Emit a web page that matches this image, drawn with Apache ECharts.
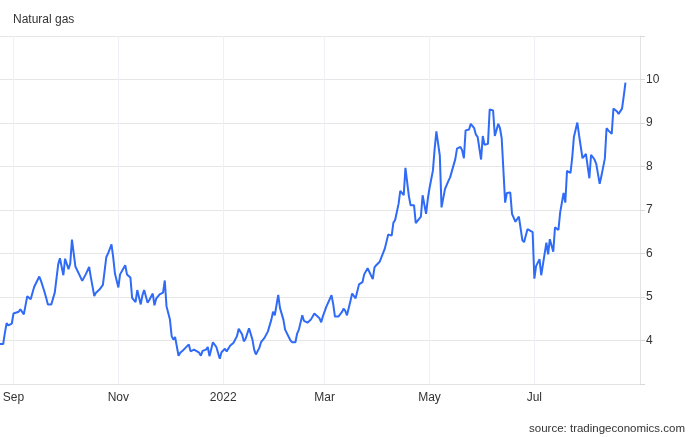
<!DOCTYPE html>
<html>
<head>
<meta charset="utf-8">
<script src="https://cdn.jsdelivr.net/npm/echarts@6/dist/echarts.min.js"></script>
<style>
html,body{margin:0;padding:0;background:#fff;}
#chart{width:696px;height:437px;}
</style>
</head>
<body>
<div id="chart"></div>
<script>
// ---- data ----
const dates = [
'2021-08-24','2021-08-26','2021-08-27','2021-08-28','2021-08-29','2021-08-31',
'2021-09-01','2021-09-04','2021-09-05','2021-09-07','2021-09-09','2021-09-10','2021-09-11','2021-09-13','2021-09-14','2021-09-16','2021-09-17','2021-09-19','2021-09-20','2021-09-21','2021-09-23','2021-09-25','2021-09-27','2021-09-28','2021-09-30',
'2021-10-01','2021-10-03','2021-10-04','2021-10-05','2021-10-07','2021-10-08','2021-10-11','2021-10-13','2021-10-15','2021-10-16','2021-10-18','2021-10-19','2021-10-21','2021-10-22','2021-10-23','2021-10-25','2021-10-26','2021-10-28','2021-10-29','2021-10-30',
'2021-11-01','2021-11-02','2021-11-04','2021-11-05','2021-11-06','2021-11-08','2021-11-09','2021-11-11','2021-11-12','2021-11-14','2021-11-15','2021-11-16','2021-11-18','2021-11-19','2021-11-21','2021-11-22','2021-11-23','2021-11-25','2021-11-27','2021-11-28','2021-11-29',
'2021-12-01','2021-12-02','2021-12-03','2021-12-04','2021-12-06','2021-12-07','2021-12-09','2021-12-10','2021-12-12','2021-12-13','2021-12-15','2021-12-16','2021-12-18','2021-12-19','2021-12-20','2021-12-22','2021-12-23','2021-12-24','2021-12-26','2021-12-27','2021-12-28','2021-12-30','2021-12-31',
'2022-01-02','2022-01-03','2022-01-05','2022-01-06','2022-01-07','2022-01-09','2022-01-10','2022-01-12','2022-01-13','2022-01-14','2022-01-16','2022-01-18','2022-01-19','2022-01-20','2022-01-22','2022-01-23','2022-01-25','2022-01-27','2022-01-29','2022-01-30','2022-01-31',
'2022-02-02','2022-02-03','2022-02-05','2022-02-06','2022-02-07','2022-02-09','2022-02-10','2022-02-12','2022-02-13','2022-02-14','2022-02-16','2022-02-17','2022-02-19','2022-02-20','2022-02-21','2022-02-23','2022-02-24','2022-02-26','2022-02-27','2022-02-28',
'2022-03-02','2022-03-03','2022-03-05','2022-03-06','2022-03-07','2022-03-09','2022-03-11','2022-03-12','2022-03-13','2022-03-14','2022-03-16','2022-03-17','2022-03-19','2022-03-20','2022-03-21','2022-03-23','2022-03-24','2022-03-26','2022-03-27','2022-03-29','2022-03-30','2022-03-31',
'2022-04-02','2022-04-03','2022-04-05','2022-04-06','2022-04-07','2022-04-09','2022-04-10','2022-04-11','2022-04-13','2022-04-14','2022-04-16','2022-04-17','2022-04-19','2022-04-20','2022-04-22','2022-04-23','2022-04-24','2022-04-26','2022-04-27','2022-04-29','2022-04-30',
'2022-05-01','2022-05-03','2022-05-04','2022-05-05','2022-05-07','2022-05-08','2022-05-10','2022-05-12','2022-05-13','2022-05-14','2022-05-16','2022-05-17','2022-05-19','2022-05-20','2022-05-21','2022-05-22','2022-05-24','2022-05-25','2022-05-27','2022-05-28','2022-05-29','2022-05-31',
'2022-06-01','2022-06-02','2022-06-04','2022-06-05','2022-06-07','2022-06-08','2022-06-10','2022-06-11','2022-06-12','2022-06-14','2022-06-15','2022-06-17','2022-06-18','2022-06-20','2022-06-21','2022-06-22','2022-06-24','2022-06-25','2022-06-27','2022-06-28','2022-06-30',
'2022-07-01','2022-07-02','2022-07-04','2022-07-05','2022-07-06','2022-07-08','2022-07-09','2022-07-10','2022-07-12','2022-07-13','2022-07-15','2022-07-16','2022-07-18','2022-07-19','2022-07-20','2022-07-22','2022-07-23','2022-07-24','2022-07-26','2022-07-27','2022-07-29','2022-07-30','2022-07-31',
'2022-08-02','2022-08-03','2022-08-05','2022-08-06','2022-08-08','2022-08-09','2022-08-11','2022-08-12','2022-08-13','2022-08-15','2022-08-16','2022-08-18','2022-08-19','2022-08-21','2022-08-22','2022-08-23'
];
const prices = [
3.92,3.92,4.18,4.40,4.35,4.39,
4.62,4.66,4.72,4.60,5.02,5.05,4.95,5.23,5.25,5.47,5.37,5.12,4.98,4.83,4.83,5.10,5.75,5.89,5.50,
5.88,5.64,5.77,6.32,5.70,5.68,5.37,5.52,5.69,5.45,5.02,5.10,5.17,5.14,5.28,5.92,6.00,6.21,5.91,5.54,
5.22,5.52,5.66,5.73,5.52,5.45,4.98,4.88,5.16,4.83,5.04,5.16,4.87,4.93,5.08,4.81,4.96,5.06,5.10,5.38,4.79,
4.48,4.10,4.02,4.08,3.65,3.72,3.79,3.81,3.91,3.75,3.79,3.78,3.72,3.65,3.76,3.79,3.85,3.64,3.96,3.92,3.85,3.58,3.73,
3.81,3.75,3.88,3.85,3.95,4.10,4.27,4.14,3.98,4.04,4.28,4.02,3.79,3.68,3.83,3.96,4.06,4.21,4.48,4.66,4.58,
5.05,4.75,4.48,4.25,4.23,4.01,3.96,3.96,4.16,4.25,4.58,4.45,4.41,4.45,4.48,4.62,4.62,4.51,4.42,4.56,
4.78,4.75,5.04,4.83,4.55,4.55,4.65,4.73,4.68,4.58,4.91,5.08,4.97,5.00,5.29,5.34,5.52,5.66,5.62,5.41,5.68,5.73,
5.81,5.82,6.11,6.12,6.44,6.41,6.71,6.77,7.14,7.44,7.34,7.97,7.32,7.11,7.11,6.70,6.68,6.85,7.34,6.91,7.25,
7.50,7.91,8.41,8.81,8.25,7.06,7.48,7.67,7.75,7.71,8.17,8.41,8.45,8.37,8.19,8.83,8.85,8.98,8.88,8.73,8.68,8.16,
8.70,8.50,8.52,9.31,9.29,8.70,8.98,8.88,8.65,7.17,7.39,7.40,6.91,6.73,6.77,6.85,6.31,6.26,6.56,6.58,6.49,
5.42,5.71,5.87,5.50,5.50,6.25,5.98,6.33,6.04,6.60,6.54,6.94,7.39,7.17,7.90,7.85,8.19,8.68,9.01,8.72,8.19,8.24,8.29,
7.73,8.27,8.16,8.06,7.60,7.78,8.18,8.88,8.83,8.75,9.33,9.27,9.21,9.33,9.62,9.93
];
const xTickDates = ['2021-09-01','2021-11-01','2022-01-01','2022-03-01','2022-05-01','2022-07-01'];
const xTickLabels = ['Sep','Nov','2022','Mar','May','Jul'];
const yTickLabels = ['4','5','6','7','8','9','10'];
const titleText = 'Natural gas';
const sourceText = 'source: tradingeconomics.com';

// ---- build chart ----
function toTs(s){ const p = s.split('-').map(Number); return Date.UTC(p[0], p[1]-1, p[2]); }
const seriesData = dates.map((d, i) => [toTs(d), prices[i]]);
const xTicks = xTickDates.map(toTs);
const labelMap = {};
xTicks.forEach((t, i) => { labelMap[t] = xTickLabels[i]; });

const chart = echarts.init(document.getElementById('chart'), null, {renderer: 'canvas'});
const font = 'Arial, "Liberation Sans", sans-serif';
chart.setOption({
  animation: false,
  backgroundColor: '#ffffff',
  title: [
    {text: titleText, left: 8, top: 9, textStyle: {fontSize: 12, fontWeight: 'normal', color: '#333333', fontFamily: font}},
    {text: sourceText, right: 6, top: 418, textStyle: {fontSize: 11.5, fontWeight: 'normal', color: '#333333', fontFamily: font}}
  ],
  grid: {left: 0, right: 56, top: 36, bottom: 53, containLabel: false, outerBoundsMode: 'none'},
  xAxis: {
    type: 'value',
    min: Date.UTC(2021, 7, 24, 3, 25),
    max: Date.UTC(2022, 7, 31, 11, 0),
    axisLine: {show: true, lineStyle: {color: '#e3e3e3', width: 1}},
    axisTick: {show: false, customValues: xTicks},
    axisLabel: {
      customValues: xTicks,
      formatter: v => labelMap[v] || '',
      color: '#333333', fontSize: 12, fontFamily: font, margin: 8
    },
    splitLine: {show: true, lineStyle: {color: '#eef2f6', width: 1}}
  },
  yAxis: {
    type: 'value',
    position: 'right',
    min: 3, max: 11, interval: 1,
    axisLine: {show: true, lineStyle: {color: '#e3e3e3', width: 1}},
    axisTick: {show: true, length: 5, lineStyle: {color: '#d8d8d8'}},
    axisLabel: {
      formatter: v => yTickLabels.indexOf(String(v)) >= 0 ? String(v) : '',
      color: '#333333', fontSize: 12, fontFamily: font, margin: 6
    },
    splitLine: {show: true, lineStyle: {color: '#e6e6e6', width: 1}}
  },
  series: [{
    type: 'line',
    data: seriesData,
    showSymbol: false,
    symbol: 'none',
    lineStyle: {color: '#2f6bf6', width: 2},
    itemStyle: {color: '#2f6bf6'}
  }]
});
</script>
</body>
</html>
